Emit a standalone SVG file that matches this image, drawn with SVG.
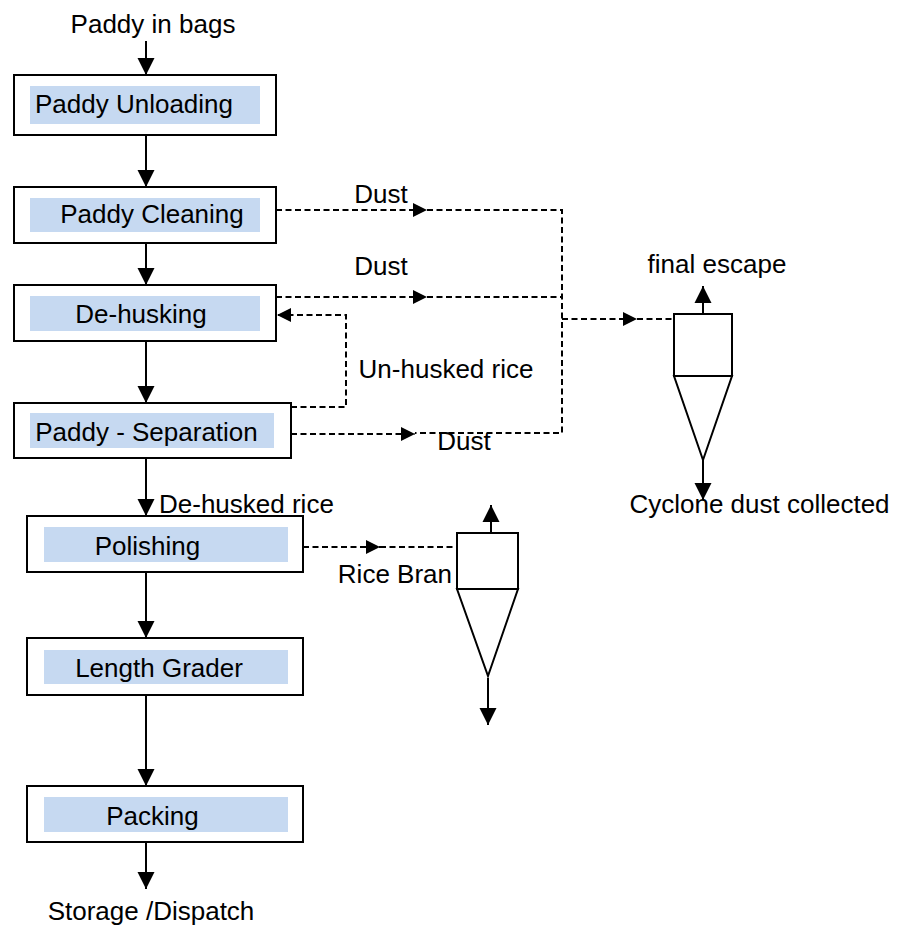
<svg xmlns="http://www.w3.org/2000/svg" width="901" height="927" viewBox="0 0 901 927">
<style>
  .box{fill:#fff;stroke:#000;stroke-width:2}
  .hl{fill:#C6D9F1;stroke:none}
  .t{font-family:"Liberation Sans",Arial,sans-serif;font-size:26px;fill:#000}
  .m{text-anchor:middle}
  .flow{fill:none;stroke:#000;stroke-width:2}
  .dash{fill:none;stroke:#000;stroke-width:2;stroke-dasharray:6 3.5}
  .cy{fill:#fff;stroke:#000;stroke-width:2}
</style>
<defs>
  <marker id="ah" viewBox="0 0 10 10" refX="10" refY="5" markerUnits="userSpaceOnUse" markerWidth="17" markerHeight="18" orient="auto">
    <path d="M0,0 L10,5 L0,10 z" fill="#000"/>
  </marker>
  <marker id="ahd" viewBox="0 0 10 10" refX="10" refY="5" markerUnits="userSpaceOnUse" markerWidth="15" markerHeight="14" orient="auto">
    <path d="M0,0 L10,5 L0,10 z" fill="#000"/>
  </marker>
</defs>

<rect width="901" height="927" fill="#fff"/>

<g id="connectors">
  <path class="flow" d="M146,41 V75" marker-end="url(#ah)"/>
  <path class="flow" d="M146,135 V187" marker-end="url(#ah)"/>
  <path class="flow" d="M146,243 V285" marker-end="url(#ah)"/>
  <path class="flow" d="M146,341 V403" marker-end="url(#ah)"/>
  <path class="flow" d="M146,458 V516" marker-end="url(#ah)"/>
  <path class="flow" d="M146,572 V638" marker-end="url(#ah)"/>
  <path class="flow" d="M146,695 V786" marker-end="url(#ah)"/>
  <path class="flow" d="M146,842 V889" marker-end="url(#ah)"/>

  <path class="flow" d="M703,314 V286" marker-end="url(#ah)"/>
  <path class="flow" d="M703,460 V500" marker-end="url(#ah)"/>
  <path class="flow" d="M491,533 V505" marker-end="url(#ah)"/>
  <path class="flow" d="M488,678 V725" marker-end="url(#ah)"/>

  <path class="dash" d="M276,210 H427" marker-end="url(#ahd)"/>
  <path class="dash" d="M427,210 H562 V433 H415"/>
  <path class="dash" d="M291,434 H415" marker-end="url(#ahd)"/>
  <path class="dash" d="M276,297 H427" marker-end="url(#ahd)"/>
  <path class="dash" d="M427,297 H562"/>
  <path class="dash" d="M562,319 H637" marker-end="url(#ahd)"/>
  <path class="dash" d="M637,319 H674"/>
  <path class="dash" d="M291,407 H346 V315 H277" marker-end="url(#ahd)"/>
  <path class="dash" d="M303,547 H380" marker-end="url(#ahd)"/>
  <path class="dash" d="M380,547 H457"/>
</g>

<g id="input-label"><text class="t m" x="153" y="33">Paddy in bags</text></g>

<g id="paddy-unloading">
  <rect class="box" x="14" y="75" width="262" height="60"/>
  <rect class="hl" x="30" y="86" width="230" height="38"/>
  <text class="t m" x="134" y="113">Paddy Unloading</text>
</g>

<g id="paddy-cleaning">
  <rect class="box" x="14" y="187" width="262" height="56"/>
  <rect class="hl" x="30" y="198" width="230" height="34"/>
  <text class="t m" x="152" y="223">Paddy Cleaning</text>
</g>

<g id="de-husking">
  <rect class="box" x="14" y="285" width="262" height="56"/>
  <rect class="hl" x="30" y="296" width="230" height="35"/>
  <text class="t m" x="141" y="323">De-husking</text>
</g>

<g id="paddy-separation">
  <rect class="box" x="14" y="403" width="277" height="55"/>
  <rect class="hl" x="30" y="413" width="244" height="35"/>
  <text class="t m" x="146.5" y="441">Paddy - Separation</text>
</g>

<g id="polishing">
  <rect class="box" x="27" y="516" width="276" height="56"/>
  <rect class="hl" x="44" y="527" width="244" height="35"/>
  <text class="t m" x="147.5" y="555">Polishing</text>
</g>

<g id="length-grader">
  <rect class="box" x="27" y="638" width="276" height="57"/>
  <rect class="hl" x="44" y="650" width="244" height="34"/>
  <text class="t m" x="159" y="677">Length Grader</text>
</g>

<g id="packing">
  <rect class="box" x="27" y="786" width="276" height="56"/>
  <rect class="hl" x="44" y="797" width="244" height="35"/>
  <text class="t m" x="152.5" y="825">Packing</text>
</g>

<g id="output-label"><text class="t m" x="151" y="920">Storage /Dispatch</text></g>

<g id="labels">
  <text class="t m" x="381" y="203">Dust</text>
  <text class="t m" x="381" y="275">Dust</text>
  <text class="t m" x="464" y="450">Dust</text>
  <text class="t m" x="446" y="378">Un-husked rice</text>
  <text class="t" x="159" y="513">De-husked rice</text>
  <text class="t" x="452" y="583" text-anchor="end">Rice Bran</text>
</g>

<g id="cyclone-1">
  <rect class="cy" x="674" y="314" width="58" height="62"/>
  <path class="cy" d="M674,376 L732,376 L703,460 Z"/>
  <text class="t m" x="717" y="273">final escape</text>
  <text class="t m" x="759.5" y="513">Cyclone dust collected</text>
</g>

<g id="cyclone-2">
  <rect class="cy" x="457" y="533" width="61" height="56"/>
  <path class="cy" d="M457,589 L518,589 L488,676 Z"/>
</g>
</svg>
